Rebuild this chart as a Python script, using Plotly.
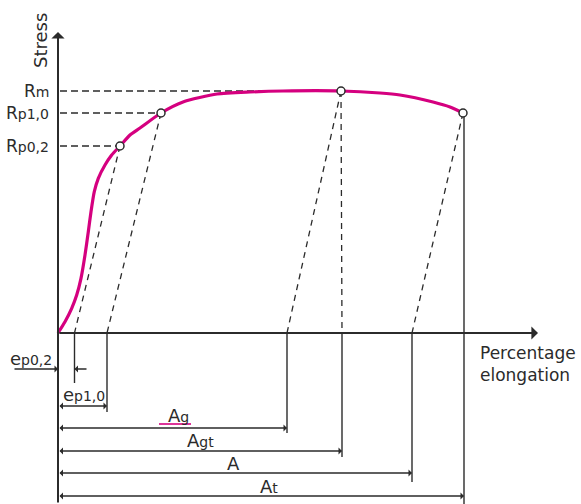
import plotly.graph_objects as go

# ---- data (elongation in %, stress in arbitrary units) ----
curve_x = [0, 0.7, 1.37, 1.87, 2.3, 2.7, 3.03, 3.3, 3.63, 4.03, 4.7, 5.37, 6.2, 7.2, 8.2,
           10.3, 12.5, 15.9, 19.2, 22.5, 28.3, 32.2, 34.2, 37.5, 39.2, 40.5]
curve_y = [0, 1.13, 2.47, 3.8, 5.47, 7.8, 10.13, 12.13, 14.13, 15.47, 16.8, 17.8, 18.7, 19.8,
           20.5, 22.0, 23.1, 23.9, 24.1, 24.2, 24.2, 24.0, 23.8, 23.1, 22.6, 22.0]

# characteristic points on the curve: Rp0,2, Rp1,0, Rm, fracture
pt_x = [6.2, 10.3, 28.3, 40.5]
pt_y = [18.7, 22.0, 24.2, 22.0]

# stress levels labelled on the stress axis
stress_labels = ["R<span style='font-size:14px'>m</span>",
                 "R<span style='font-size:14px'>p1,0</span>",
                 "R<span style='font-size:14px'>p0,2</span>"]
stress_levels = [24.2, 22.0, 18.7]
stress_level_x = [28.3, 10.3, 6.2]

# elongation feet on the x axis: ep0,2, ep1,0, Ag, Agt, A, At
foot_x = [1.65, 4.9, 22.9, 28.4, 35.4, 40.6]
# where each slanted / vertical dashed line starts (point index in pt_x)
dash_from = [0, 1, 2, 2, 3]
dash_to_foot = [0, 1, 2, 3, 4]
# bottom / top of each solid reference line
foot_bottom = [-5.0, -7.9, -10.0, -12.4, -14.9, -17.1]
foot_top = [0, 0, 0, 0, 0, 22.0]

# dimension rows
dim_labels = ["e<span style='font-size:14px'>p1,0</span>",
              "A<span style='font-size:14px'>g</span>",
              "A<span style='font-size:14px'>gt</span>",
              "A",
              "A<span style='font-size:14px'>t</span>"]
dim_end = [4.9, 22.9, 28.4, 35.4, 40.6]
dim_y = [-7.3, -9.5, -11.8, -14.0, -16.3]
dim_label_x = [2.6, 12.0, 14.2, 17.5, 21.1]
dim_label_y = [-6.1, -8.2, -10.7, -13.0, -15.3]

XMIN, XMAX, YMIN, YMAX = -5.8, 52.3, -17.1, 33.3

INK = "#2b2b2b"
MAG = "#D5007F"
FONT = "DejaVu Sans"

fig = go.Figure()

# horizontal dashed stress lines
hx, hy = [], []
for lv, xe in zip(stress_levels, stress_level_x):
    hx += [0.2, xe, None]
    hy += [lv, lv, None]
fig.add_trace(go.Scatter(x=hx, y=hy, mode="lines",
                         line=dict(color=INK, width=1.3, dash="7px,4px"), hoverinfo="skip"))

# slanted / vertical dashed lines down to the elongation axis
sx, sy = [], []
for i, j in zip(dash_from, dash_to_foot):
    sx += [pt_x[i], foot_x[j], None]
    sy += [pt_y[i], 0, None]
fig.add_trace(go.Scatter(x=sx, y=sy, mode="lines",
                         line=dict(color=INK, width=1.3, dash="6px,5px"), hoverinfo="skip"))

# solid reference lines
vx, vy = [], []
for fx, fb, ft in zip(foot_x, foot_bottom, foot_top):
    vx += [fx, fx, None]
    vy += [ft, fb, None]
fig.add_trace(go.Scatter(x=vx, y=vy, mode="lines",
                         line=dict(color=INK, width=1.4), hoverinfo="skip"))

# stress-strain curve
fig.add_trace(go.Scatter(x=curve_x, y=curve_y, mode="lines",
                         line=dict(color=MAG, width=3.2, shape="spline", smoothing=0.6),
                         hoverinfo="skip"))

# Ag underline
fig.add_trace(go.Scatter(x=[10.1, 13.3], y=[-9.1, -9.1], mode="lines",
                         line=dict(color=MAG, width=1.6), hoverinfo="skip"))

# characteristic point markers
fig.add_trace(go.Scatter(x=pt_x, y=pt_y, mode="markers",
                         marker=dict(size=8, color="white", line=dict(color=INK, width=1.5)),
                         hoverinfo="skip"))

ann = []
# axes with arrowheads
ann.append(dict(x=0, y=30.1, ax=0, ay=YMIN, xref="x", yref="y", axref="x", ayref="y",
                showarrow=True, arrowhead=1, arrowsize=1.1, arrowwidth=2, arrowcolor=INK, text=""))
ann.append(dict(x=48.0, y=0, ax=0, ay=0, xref="x", yref="y", axref="x", ayref="y",
                showarrow=True, arrowhead=1, arrowsize=1.1, arrowwidth=2, arrowcolor=INK, text=""))

# ep0,2 inward arrows
ann.append(dict(x=0, y=-3.6, ax=-4.5, ay=-3.6, xref="x", yref="y", axref="x", ayref="y",
                showarrow=True, arrowhead=1, arrowsize=0.9, arrowwidth=1.3, arrowcolor=INK, text=""))
ann.append(dict(x=foot_x[0], y=-3.6, ax=3.0, ay=-3.6, xref="x", yref="y", axref="x", ayref="y",
                showarrow=True, arrowhead=1, arrowsize=0.9, arrowwidth=1.3, arrowcolor=INK, text=""))
ann.append(dict(x=-2.7, y=-2.5, xref="x", yref="y", showarrow=False,
                text="e<span style='font-size:14px'>p0,2</span>",
                font=dict(family=FONT, size=18, color=INK)))

# double headed dimension arrows
for xe, yy, lab, lx, ly in zip(dim_end, dim_y, dim_labels, dim_label_x, dim_label_y):
    ann.append(dict(x=xe, y=yy, ax=0, ay=yy, xref="x", yref="y", axref="x", ayref="y",
                    showarrow=True, arrowhead=1, startarrowhead=1, arrowside="end+start",
                    arrowsize=0.9, startarrowsize=0.9, arrowwidth=1.3, arrowcolor=INK, text=""))
    ann.append(dict(x=lx, y=ly, xref="x", yref="y", showarrow=False, text=lab,
                    font=dict(family=FONT, size=18, color=INK)))

# stress labels
for lab, lv in zip(stress_labels, stress_levels):
    ann.append(dict(x=-0.7, y=lv, xref="x", yref="y", xanchor="right", showarrow=False,
                    text=lab, font=dict(family=FONT, size=17, color=INK)))

# axis titles
ann.append(dict(x=-1.8, y=29.2, xref="x", yref="y", showarrow=False, text="Stress",
                textangle=-90, font=dict(family=FONT, size=18, color=INK)))
ann.append(dict(x=42.0, y=-3.1, xref="x", yref="y", xanchor="left", align="left",
                showarrow=False, text="Percentage<br>elongation",
                font=dict(family=FONT, size=17, color=INK)))

fig.update_layout(
    width=581, height=504,
    margin=dict(l=0, r=0, t=0, b=0),
    paper_bgcolor="white", plot_bgcolor="white",
    showlegend=False,
    hovermode=False,
    xaxis=dict(range=[XMIN, XMAX], visible=False, fixedrange=True),
    yaxis=dict(range=[YMIN, YMAX], visible=False, fixedrange=True),
    annotations=ann,
)

fig.write_html(
    "out.html",
    config={"displayModeBar": False, "staticPlot": True},
    post_script="document.body.style.margin='0px';document.body.style.overflow='hidden';",
)
